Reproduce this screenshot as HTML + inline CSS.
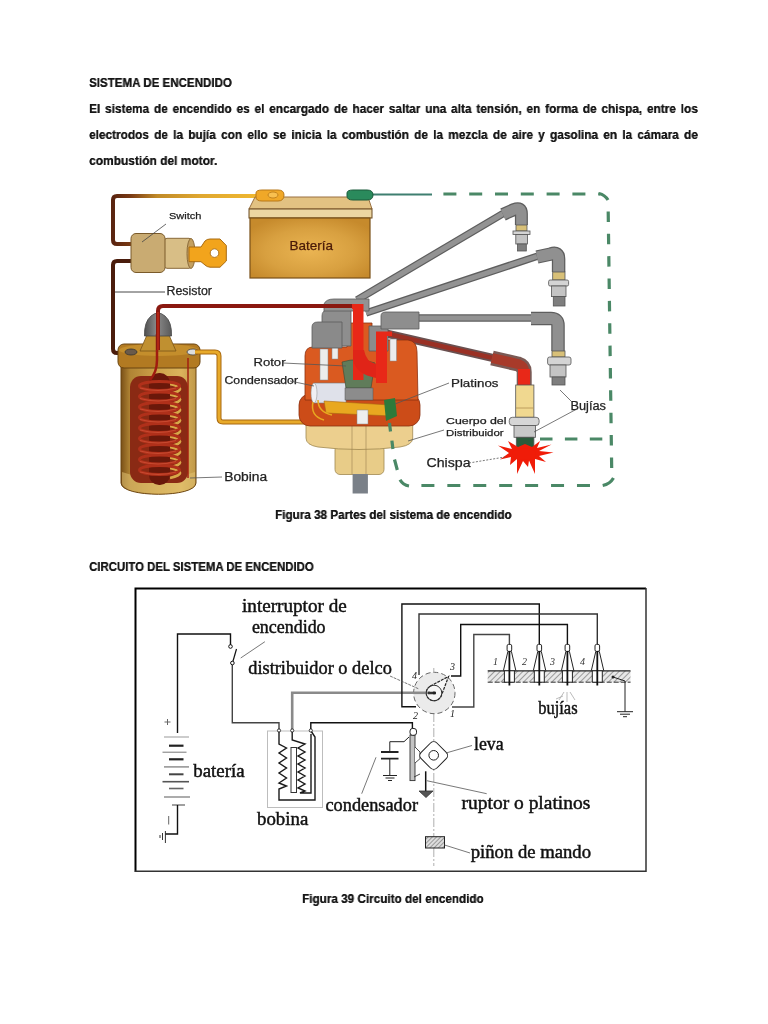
<!DOCTYPE html>
<html><head><meta charset="utf-8">
<style>
html,body{margin:0;padding:0;background:#fff;}
body{width:768px;height:1024px;position:relative;overflow:hidden;font-family:"Liberation Sans",sans-serif;color:#1a1a1a;}
.t{position:absolute;white-space:nowrap;font-weight:bold;line-height:20px;transform-origin:0 0;will-change:transform;text-shadow:0.15px 0 0 #1a1a1a;color:#161616;}
.j{text-align:justify;text-align-last:justify;}
svg{position:absolute;overflow:visible;will-change:transform;}
</style></head><body>

<div class="t" id="h1" style="left:89px;top:73px;font-size:12.4px;transform:scaleX(0.933)">SISTEMA DE ENCENDIDO</div>
<div class="t j" id="p1" style="left:89px;top:99px;width:669px;font-size:13px;transform:scaleX(0.91)">El sistema de encendido es el encargado de hacer saltar una alta tensión, en forma de chispa, entre los</div>
<div class="t j" id="p2" style="left:89px;top:125px;width:669px;font-size:13px;transform:scaleX(0.91)">electrodos de la bujía con ello se inicia la combustión de la mezcla de aire y gasolina en la cámara de</div>
<div class="t" id="p3" style="left:89px;top:151px;font-size:13px;transform:scaleX(0.92)">combustión del motor.</div>

<div class="t" id="c1" style="left:275px;top:505px;font-size:12.3px;transform:scaleX(0.951)">Figura 38 Partes del sistema de encendido</div>
<div class="t" id="h2" style="left:89px;top:557px;font-size:12.4px;transform:scaleX(0.92)">CIRCUITO DEL SISTEMA DE ENCENDIDO</div>
<div class="t" id="c2" style="left:302px;top:889px;font-size:12.3px;transform:scaleX(0.953)">Figura 39 Circuito del encendido</div>

<!-- FIG1 -->
<svg id="fig1" style="left:0;top:0;filter:blur(0.35px)" width="768" height="1024" viewBox="0 0 768 1024">
 <defs>
  <linearGradient id="gw1" x1="0" x2="1" y1="0" y2="0"><stop offset="0" stop-color="#5a2410"/><stop offset="0.12" stop-color="#7a3a14"/><stop offset="0.3" stop-color="#c08a28"/><stop offset="0.6" stop-color="#e0a830"/><stop offset="1" stop-color="#f0b830"/></linearGradient>
  <radialGradient id="gbat" cx="0.5" cy="0.55" r="0.62"><stop offset="0" stop-color="#eab452"/><stop offset="0.6" stop-color="#d8a040"/><stop offset="1" stop-color="#c68a2c"/></radialGradient>
  <linearGradient id="gcoil" x1="0" x2="1"><stop offset="0" stop-color="#7a5018"/><stop offset="0.12" stop-color="#b08434"/><stop offset="0.45" stop-color="#cca048"/><stop offset="0.8" stop-color="#dcb45c"/><stop offset="1" stop-color="#c09848"/></linearGradient>
  <linearGradient id="gcap" x1="0" x2="1"><stop offset="0" stop-color="#c84818"/><stop offset="0.5" stop-color="#e06028"/><stop offset="1" stop-color="#c84818"/></linearGradient>
  <linearGradient id="gbody" x1="0" x2="1"><stop offset="0" stop-color="#dcc080"/><stop offset="0.5" stop-color="#f2dca0"/><stop offset="1" stop-color="#d8bc7c"/></linearGradient>
 <linearGradient id="gcone" x1="0" x2="1"><stop offset="0" stop-color="#505050"/><stop offset="0.45" stop-color="#8a8a8a"/><stop offset="1" stop-color="#5a5a5a"/></linearGradient>
 </defs>
 <!-- wires left -->
 <path d="M131,244 H117 Q113,244 113,240 V200 Q113,196 117,196 H260" fill="none" stroke="url(#gw1)" stroke-width="4"/>
 <path d="M131,261 H117 Q113,261 113,265 V349 Q113,353 117,353 H127" fill="none" stroke="#4a1c0c" stroke-width="4"/>
 <line x1="115" y1="292" x2="165" y2="292" stroke="#333" stroke-width="0.9"/>
 <!-- switch -->
 <rect x="164" y="238.3" width="28" height="30" rx="3" fill="#d8be86" stroke="#8a6a3a" stroke-width="1"/>
 <rect x="131" y="233.5" width="34" height="39" rx="5" fill="#c9ab72" stroke="#7a5a2a" stroke-width="1"/>
 <ellipse cx="191" cy="253.5" rx="4" ry="15" fill="#c4a060" stroke="#8a6a3a" stroke-width="1"/>
 <path d="M189,247 H201 L205,241 Q207,239 210,239 H220 L226.3,245.5 V261 L220,267.2 H210 Q207,267 205,265 L201,261.7 H189 Z" fill="#f2a41c" stroke="#a86a10" stroke-width="1"/>
 <circle cx="214.5" cy="253.1" r="4.3" fill="#fff" stroke="#a86a10" stroke-width="0.9"/>
 <line x1="142" y1="242" x2="166" y2="224" stroke="#444" stroke-width="0.8"/>
 <!-- battery -->
 <path d="M255,197 H368 L372,209 H249 Z" fill="#e2c282" stroke="#9a7040" stroke-width="1"/>
 <rect x="249" y="209" width="123" height="9" fill="#ecd6a2" stroke="#6a4a20" stroke-width="1"/>
 <rect x="250" y="218" width="120" height="60" fill="url(#gbat)" stroke="#7a5018" stroke-width="1.2"/>
 <path d="M256,193 Q256,190 262,190 H278 Q284,190 284,195 Q284,201 278,201 H262 Q256,201 256,197 Z" fill="#f0a828" stroke="#b87818" stroke-width="1"/>
 <ellipse cx="273" cy="195" rx="5" ry="3" fill="#f8c050" stroke="#b87818" stroke-width="0.8"/>
 <line x1="366" y1="194.5" x2="432" y2="194.5" stroke="#3f7f70" stroke-width="2.2"/>
 <path d="M347,193 Q347,190 353,190 H367 Q373,190 373,195 Q373,200 367,200 H353 Q347,200 347,196 Z" fill="#2a8a5c" stroke="#1a5a3a" stroke-width="1"/>
 <!-- green dashed -->
 <g fill="none" stroke="#4a8866" stroke-width="3.2">
  <path d="M443.4,194 H600" stroke-dasharray="13 12.8"/>
  <path d="M599,193.5 Q605,195 608,200"/>
  <path d="M608.2,211.4 L611.7,470" stroke-dasharray="10.5 11.87"/>
  <path d="M602.7,485.5 Q610,484 613.5,478"/>
  <path d="M421.4,485.5 H592" stroke-dasharray="13 12.93"/>
  <path d="M400,479.7 Q403,485 409,486"/>
  <path d="M538.5,439 H604" stroke-dasharray="12.5 12.4" stroke-dashoffset="-1.5"/>
 </g>
 
 <!-- coil -->
 <path d="M121,360 V483 C121,498 196,498 196,483 V360 Z" fill="url(#gcoil)" stroke="#6a4410" stroke-width="1"/>
 <path d="M122,472 V483 C122,497 195,497 195,483 V472 C170,480 146,480 122,472 Z" fill="#e2c272" opacity="0.55"/>
 <rect x="118" y="344" width="82" height="24" rx="6" fill="#b27a22" stroke="#6a4410" stroke-width="1"/>
 <ellipse cx="159" cy="350" rx="40" ry="6" fill="#c48e2c"/>
 <path d="M140,351 L147,335 H169 L176,351 Z" fill="#c09030" stroke="#7a5418" stroke-width="0.8"/>
 <path d="M144.5,336 Q144,322 151,316 Q158,310 165,316 Q172,322 171.5,336 Z" fill="url(#gcone)" stroke="#444" stroke-width="0.8"/>
 <ellipse cx="131" cy="352" rx="6" ry="3" fill="#6a5a4a" stroke="#333" stroke-width="0.8"/>
 <ellipse cx="193" cy="352" rx="6" ry="3" fill="#ddd" stroke="#444" stroke-width="0.8"/>
 <rect x="130" y="376" width="58" height="107" rx="11" fill="#8a2a14"/>
 <g fill="none" stroke="#d8a848" stroke-width="2.8">
  <path d="M170,384 Q190,389 170,394 M170,394.5 Q190,399.5 170,404.5 M170,405 Q190,410 170,415 M170,415.5 Q190,420.5 170,425.5 M170,426 Q190,431 170,436 M170,436.5 Q190,441.5 170,446.5 M170,447 Q190,452 170,457 M170,457.5 Q190,462.5 170,467.5 M170,468 Q190,473 170,478"/>
 </g>

 <rect x="149" y="373" width="21" height="112" rx="10" fill="#6a180a"/>
 <g fill="none" stroke="#b0301a" stroke-width="3">
  <ellipse cx="159.5" cy="386" rx="20" ry="4.6"/><ellipse cx="159.5" cy="396.5" rx="20" ry="4.6"/><ellipse cx="159.5" cy="407" rx="20" ry="4.6"/><ellipse cx="159.5" cy="417.5" rx="20" ry="4.6"/><ellipse cx="159.5" cy="428" rx="20" ry="4.6"/><ellipse cx="159.5" cy="438.5" rx="20" ry="4.6"/><ellipse cx="159.5" cy="449" rx="20" ry="4.6"/><ellipse cx="159.5" cy="459.5" rx="20" ry="4.6"/><ellipse cx="159.5" cy="470" rx="20" ry="4.6"/>
 </g>
 <g fill="none" stroke="#c84a30" stroke-width="1">
  <path d="M140,388 Q158,393 176,388 M140,398.5 Q158,403.5 176,398.5 M140,409 Q158,414 176,409 M140,419.5 Q158,424.5 176,419.5 M140,430 Q158,435 176,430 M140,440.5 Q158,445.5 176,440.5 M140,451 Q158,456 176,451 M140,461.5 Q158,466.5 176,461.5 M140,472 Q158,477 176,472"/>
 </g>
 <path d="M157,334 V360 Q157,372 150,380" fill="none" stroke="#a01c10" stroke-width="2.5"/>
 <line x1="188" y1="358" x2="188" y2="478" stroke="#a02010" stroke-width="1.5"/>
 <line x1="190" y1="478" x2="222" y2="477" stroke="#555" stroke-width="0.8"/>
 <!-- HT wire coil to distributor -->
 <path d="M158,350 V311 Q158,306 163,306 H354" fill="none" stroke="#8a1810" stroke-width="4"/>
 <path d="M158,350 V312" fill="none" stroke="#b02414" stroke-width="2"/>
 <!-- yellow wire -->
 <path d="M195,352 H215 Q219,352 219,356 V418 Q219,422 223,422 H314" fill="none" stroke="#a86810" stroke-width="5"/>
 <path d="M195,352 H215 Q219,352 219,356 V418 Q219,422 223,422 H314" fill="none" stroke="#e8aa2a" stroke-width="3"/>
 <!-- gray cables -->
 <g fill="none" stroke-linecap="butt" stroke-linejoin="round">
  <path d="M357,300 L504,213" stroke="#5e5e5e" stroke-width="7.5"/>
  <path d="M357,300 L504,213" stroke="#939393" stroke-width="5"/>
  <path d="M503,214.5 L514,209.5 Q521.4,206.5 521.4,214 V225" stroke="#5e5e5e" stroke-width="13"/>
  <path d="M503,214.5 L514,209.5 Q521.4,206.5 521.4,214 V225" stroke="#909090" stroke-width="10.5"/>
  <path d="M366,313 L538,256" stroke="#5e5e5e" stroke-width="7.5"/>
  <path d="M366,313 L538,256" stroke="#939393" stroke-width="5"/>
  <path d="M537,257 L551,254 Q558.6,251.5 558.6,259 V272" stroke="#5e5e5e" stroke-width="13.5"/>
  <path d="M537,257 L551,254 Q558.6,251.5 558.6,259 V272" stroke="#909090" stroke-width="11"/>
  <path d="M382,318 H532" stroke="#5e5e5e" stroke-width="7.5"/>
  <path d="M382,318 H532" stroke="#939393" stroke-width="5"/>
  <path d="M531,318.5 H551 Q558,318.5 558,325.5 V351" stroke="#5e5e5e" stroke-width="13.5"/>
  <path d="M531,318.5 H551 Q558,318.5 558,325.5 V351" stroke="#909090" stroke-width="11"/>
  <path d="M384,333 L493,358" stroke="#6a5050" stroke-width="8"/>
  <path d="M384,333 L493,358" stroke="#9a3024" stroke-width="4.5"/>
  <path d="M492,358 L518,364 Q524.2,366 524.2,372 V386" stroke="#7a5a55" stroke-width="15"/>
  <path d="M492,358 L518,364 Q524.2,366 524.2,372 V386" stroke="#a83a2a" stroke-width="10"/>
 </g>
 <rect x="518" y="369" width="12" height="17" fill="#e82818"/>
 <!-- plugs -->
 <g stroke="#555" stroke-width="0.8">
  <rect x="516" y="225" width="11" height="6" fill="#d8c078"/>
  <rect x="513" y="231" width="17" height="3.5" fill="#d4d4d4"/>
  <rect x="515.8" y="234.5" width="11.7" height="9.5" fill="#c4c4c4"/>
  <rect x="517.5" y="244" width="8.8" height="7" fill="#7e7e7e"/>
  <rect x="552.7" y="272" width="12.3" height="8" fill="#d8c078"/>
  <rect x="548.6" y="280" width="20" height="6" rx="1.5" fill="#d4d4d4"/>
  <rect x="551.5" y="286" width="14.5" height="10.6" fill="#c4c4c4"/>
  <rect x="553.3" y="296.6" width="11.7" height="9.4" fill="#7e7e7e"/>
  <rect x="552" y="351" width="13" height="6" fill="#d8c078"/>
  <rect x="547.6" y="357" width="23.4" height="8" rx="2" fill="#d4d4d4"/>
  <rect x="550" y="365" width="16" height="12" fill="#c4c4c4"/>
  <rect x="552" y="377" width="13" height="8" fill="#7e7e7e"/>
  <rect x="515.7" y="385" width="18.2" height="32.3" fill="#f0d890"/>
  <line x1="516" y1="408" x2="533.5" y2="408" stroke="#b09050" stroke-width="0.8"/>
  <rect x="509.3" y="417.3" width="29.8" height="8.2" rx="3" fill="#d6d6d6"/>
  <rect x="514" y="425.5" width="21.6" height="11.8" fill="#c8c8c8"/>
  <rect x="516.3" y="437.3" width="17.6" height="11.1" fill="#2a5a3a"/>
 </g>
 <!-- spark -->
 <path d="M553.5,452.5 L539,456 L546,462 L535,459 L535,474 L529,460.5 L528,467 L523,461 L517,474 L517,459 L510,465 L511,457 L500,459.5 L509,453 L498,445.5 L512,449 L508,441 L518,447 L525,444 L532,447 L540,441 L537,448 L551.5,444.5 L539,451 Z" fill="#f01c08"/>
 <ellipse cx="524" cy="454" rx="12" ry="6" fill="#f01c08"/>
 <!-- distributor -->
 <rect x="335" y="445" width="49" height="29.5" rx="5" fill="#e8cc88" stroke="#a08850" stroke-width="0.8"/>
 <rect x="352.6" y="474" width="15.3" height="19.5" fill="#7a8088"/>
 <path d="M306,420 H412.7 V438 Q412.7,445 400,447 Q359,452 318,447 Q306,445 306,438 Z" fill="#eccf8e" stroke="#a08850" stroke-width="0.8"/>
 <line x1="352" y1="426" x2="352" y2="474" stroke="#9a8050" stroke-width="0.6"/>
 <line x1="366" y1="426" x2="366" y2="474" stroke="#9a8050" stroke-width="0.6"/>
 <rect x="299" y="394" width="121" height="32" rx="11" fill="#cc4c18" stroke="#8a3010" stroke-width="0.8"/>
 <path d="M305,400 V356 Q305,347 313,347 H347 V323 H372 V340 H408 Q417,341 417,352 L418,400 Z" fill="#da5a20" stroke="#8a3010" stroke-width="0.8"/>
 <!-- cutaway -->
 <path d="M314,383 H346 V403 H314 Q310,393 314,383 Z" fill="#dfe1ea" stroke="#777" stroke-width="0.6"/><ellipse cx="314" cy="393" rx="3" ry="10" fill="#f0f0f4" stroke="#888" stroke-width="0.5"/>
 <path d="M342,362 Q358,357 375,363 L371,388 H346 Z" fill="#607c5a" stroke="#3a4a34" stroke-width="0.6"/>
 <rect x="345" y="388" width="28" height="12" fill="#8c8c8c" stroke="#555" stroke-width="0.5"/>
 <path d="M324,401 L390,405 L392,416 L326,413 Z" fill="#e8a820" stroke="#a86810" stroke-width="0.6"/>
 <path d="M384,400 L395,398 L397,416 L386,421 Z" fill="#2e7a3a"/>
 <rect x="357" y="410" width="11" height="14" fill="#eee" stroke="#888" stroke-width="0.5"/>
 <path d="M313,402 Q310,416 324,420 M318,400 Q318,412 332,415" fill="none" stroke="#e8a820" stroke-width="1.5"/>
 <!-- terminals posts -->
 <rect x="320" y="349" width="8" height="31" fill="#ececec" stroke="#888" stroke-width="0.5"/>
 <rect x="332" y="347" width="6" height="12" fill="#ececec" stroke="#888" stroke-width="0.5"/>
 <rect x="390" y="339" width="6.5" height="22" fill="#ececec" stroke="#888" stroke-width="0.5"/>
 <!-- gray boots -->
 <path d="M322,316 Q322,310 328,310 H351 V346 H322 Z" fill="#8e8e8e" stroke="#5a5a5a" stroke-width="0.8"/>
 <path d="M312,327 Q312,322 318,322 H342 V348 H312 Z" fill="#8a8a8a" stroke="#5a5a5a" stroke-width="0.8"/>
 <path d="M369,326 H388 V351 H369 Z" fill="#8c8c8c" stroke="#5a5a5a" stroke-width="0.8"/>
 <path d="M381,316 Q381,312 386,312 H419 V329 H381 Z" fill="#8e8e8e" stroke="#5a5a5a" stroke-width="0.8"/>
 <path d="M324,304 Q326,299 334,299 H369 V311 H324 Z" fill="#939393" stroke="#5a5a5a" stroke-width="0.8"/>
 <!-- red HT verticals -->
 <path d="M320,306 H354" stroke="#8a1810" stroke-width="4"/>
 <path d="M352,304 H363.5 V380 H353 V309 H352 Z" fill="#e82818"/>
 <path d="M376,331.5 H392 V336 H387 V383 H376 Z" fill="#e82818"/>
 <path d="M353,350 H364 Q366,362 376,364 V378 Q356,374 353,360 Z" fill="#e02418"/>
 <path d="M389.5,423 L390.5,431.5 M391.9,440.6 L392.9,449 M394.5,459.5 L397.3,470" fill="none" stroke="#4a8866" stroke-width="3.2"/>
 <!-- labels -->
 <g font-family="Liberation Sans" fill="#222" stroke="#222" stroke-width="0.25">
  <text x="169" y="219" font-size="9.8" textLength="32.5" lengthAdjust="spacingAndGlyphs">Switch</text>
  <text x="166.5" y="295" font-size="12" textLength="45.5" lengthAdjust="spacingAndGlyphs">Resistor</text>
  <text x="289.5" y="250" font-size="13" textLength="43.5" lengthAdjust="spacingAndGlyphs" fill="#4a1a08" stroke="#4a1a08">Batería</text>
  <text x="253.5" y="366" font-size="11.5" textLength="32" lengthAdjust="spacingAndGlyphs">Rotor</text>
  <text x="224.5" y="383.5" font-size="10" textLength="73.5" lengthAdjust="spacingAndGlyphs">Condensador</text>
  <text x="224.2" y="480.5" font-size="12" textLength="43" lengthAdjust="spacingAndGlyphs">Bobina</text>
  <text x="451" y="387" font-size="11.5" textLength="47.5" lengthAdjust="spacingAndGlyphs">Platinos</text>
  <text x="570.5" y="409.5" font-size="12" textLength="35.5" lengthAdjust="spacingAndGlyphs">Bujías</text>
  <text x="446" y="423.5" font-size="9" textLength="60.5" lengthAdjust="spacingAndGlyphs">Cuerpo del</text>
  <text x="446" y="435.5" font-size="9.3" textLength="57.5" lengthAdjust="spacingAndGlyphs">Distribuidor</text>
  <text x="426.5" y="467" font-size="12.3" textLength="44" lengthAdjust="spacingAndGlyphs">Chispa</text>
 </g>
 <g stroke="#555" stroke-width="0.8" fill="none">
  <line x1="283" y1="363" x2="346" y2="366"/>
  <line x1="290" y1="381" x2="314" y2="386"/>
  <line x1="449" y1="383" x2="395" y2="404"/>
  <line x1="444" y1="430" x2="408" y2="441"/>
  <path d="M469,463 L505,457" stroke-dasharray="2 1.5"/>
  <path d="M572,402 L560,390 M575,410 L534,432"/>
 </g>
</svg>

<!-- FIG2 -->
<svg id="fig2" style="left:0;top:0;filter:blur(0.3px)" width="768" height="1024" viewBox="0 0 768 1024">
 <defs>
  <pattern id="hatch" width="4" height="4" patternUnits="userSpaceOnUse" patternTransform="rotate(45)"><rect width="4" height="4" fill="#e8e8e8"/><line x1="0" y1="0" x2="0" y2="4" stroke="#888" stroke-width="1.6"/></pattern>
  <pattern id="hatch2" width="3" height="3" patternUnits="userSpaceOnUse" patternTransform="rotate(45)"><rect width="3" height="3" fill="#ddd"/><line x1="0" y1="0" x2="0" y2="3" stroke="#555" stroke-width="1"/></pattern>
 </defs>
 <path d="M135.5 872 V588.5 H646" fill="none" stroke="#000" stroke-width="2"/>
 <path d="M646 588 V871.3 H135" fill="none" stroke="#333" stroke-width="1.5"/>
 <g fill="none" stroke="#111" stroke-width="1.4">
  <!-- battery + switch loop -->
  <path d="M177.5,733 V634 H230.5 V645"/>
  <path d="M232.3,664.5 V722.7 H279 V729" stroke="#444"/>
  <line x1="232.6" y1="662.5" x2="236.5" y2="649" stroke-width="1.2"/>
  <!-- bobina to distributor centre -->
  <path d="M292.2,729 V692.8 H430" stroke="#8a8a8a" stroke-width="2.6"/>
  <!-- bobina to breaker -->
  <path d="M310.8,729 V722.8 H412.4 V729"/>
  <!-- HT leads -->
  <path d="M539.3,644 V604 H401.9 V706.8 H416"/>
  <path d="M597.3,644 V614 H419 V675" stroke="#333"/>
  <path d="M567.4,644 V624.5 H460.7 V676 H451"/>
  <path d="M509.4,644 V634.5 H473.8 V707 H452" stroke="#444"/>
 </g>
 <!-- switch circles -->
 <circle cx="230.5" cy="646.5" r="1.8" fill="#fff" stroke="#111" stroke-width="1"/>
 <circle cx="232.4" cy="663" r="1.8" fill="#fff" stroke="#111" stroke-width="1"/>
 <!-- battery symbol -->
 <g stroke-linecap="butt">
  <line x1="164" y1="737" x2="189" y2="737" stroke="#999" stroke-width="1"/>
  <line x1="169" y1="745.7" x2="183.5" y2="745.7" stroke="#222" stroke-width="2.2"/>
  <line x1="162.5" y1="752.2" x2="186.5" y2="752.2" stroke="#777" stroke-width="1"/>
  <line x1="169" y1="759.3" x2="183.5" y2="759.3" stroke="#222" stroke-width="2.2"/>
  <line x1="164" y1="766.9" x2="189" y2="766.9" stroke="#888" stroke-width="1.4"/>
  <line x1="169" y1="774.3" x2="183.5" y2="774.3" stroke="#444" stroke-width="2"/>
  <line x1="162.5" y1="781.7" x2="189" y2="781.7" stroke="#555" stroke-width="1.6"/>
  <line x1="169" y1="788.5" x2="183.5" y2="788.5" stroke="#666" stroke-width="1.6"/>
  <line x1="164" y1="797" x2="190" y2="797" stroke="#888" stroke-width="1.4"/>
  <line x1="172" y1="805" x2="185" y2="805" stroke="#888" stroke-width="1.6"/>
 </g>
 <path d="M177.5,805 V834 H165" fill="none" stroke="#111" stroke-width="1.4"/>
 <path d="M165.4,831 V843 M162.5,833 V840 M160,835 V838" stroke="#333" stroke-width="1"/>
 <path d="M164.5,722 H170.5 M167.5,719 V725" stroke="#666" stroke-width="1"/>
 <line x1="168.7" y1="816" x2="168.7" y2="824.5" stroke="#666" stroke-width="1"/>
 <!-- bobina -->
 <rect x="267.5" y="731" width="55" height="76.5" fill="none" stroke="#bdbdbd" stroke-width="1"/>
 <g fill="none" stroke="#1a1a1a" stroke-width="1.4">
  <path d="M279,731 V744 L286.5,748 L279,753 L286.5,758 L279,763 L286.5,768 L279,773 L286.5,778 L279,783 L286.5,786 L279,789 V800 H315 V737 L311,731"/>
  <path d="M292.2,731 V740 L305,744 L298,748 L305,752 L298,756 L305,760 L298,764 L305,768 L298,772 L305,776 L298,780 L305,784 L298,788 L305,791 L300,793 H311 V734"/>
 </g>
 <rect x="291" y="747.5" width="5.5" height="45" fill="#fff" stroke="#333" stroke-width="1"/>
 <circle cx="279" cy="730.5" r="1.6" fill="#fff" stroke="#222" stroke-width="0.9"/>
 <circle cx="292.2" cy="730.5" r="1.6" fill="#fff" stroke="#222" stroke-width="0.9"/>
 <circle cx="310.8" cy="730.5" r="1.6" fill="#fff" stroke="#222" stroke-width="0.9"/>
 <!-- distributor -->
 <line x1="433.8" y1="668" x2="433.8" y2="866" stroke="#9a9a9a" stroke-width="0.8" stroke-dasharray="9 2 2 2"/>
 <circle cx="434.3" cy="693" r="20.7" fill="#ebebeb" stroke="#666" stroke-width="1" stroke-dasharray="5 3"/>
 <path d="M430.3,686.1 L448.6,676.4 L441.3,695.7 A7.8,7.8 0 1 1 430.3,686.1 Z" fill="#f6f6f6" stroke="#222" stroke-width="1.2" stroke-dasharray="3 1"/>
 <path d="M413,692.8 H430" stroke="#8a8a8a" stroke-width="2.6"/>
 <circle cx="434" cy="693" r="7.8" fill="none" stroke="#333" stroke-width="1"/>
 <path d="M428,693 H436" stroke="#333" stroke-width="2.5"/>
 <circle cx="434" cy="693" r="1.4" fill="#222"/>
 <g font-family="Liberation Serif" font-style="italic" font-size="10" fill="#222">
  <text x="412" y="679">4</text><text x="450" y="670">3</text><text x="413" y="719">2</text><text x="450" y="717">1</text>
 </g>
 <!-- plugs -->
 <rect x="487.7" y="670.8" width="142.8" height="11.5" fill="url(#hatch)"/>
 <line x1="487.7" y1="670.8" x2="630.5" y2="670.8" stroke="#222" stroke-width="1.2"/>
 <line x1="487.7" y1="682.2" x2="630.5" y2="682.2" stroke="#333" stroke-width="1" stroke-dasharray="5 2"/>
 <g fill="#fff" stroke="#222" stroke-width="1"><path d="M507.9,651.4 L503.4,670.8 H515.9 L511.4,651.4 Z"/><rect x="504.4" y="670.8" width="10" height="11.4"/><rect x="507.1" y="644.4" width="4.6" height="7" rx="1.5"/></g>
 <line x1="509.4" y1="651" x2="509.4" y2="685.5" stroke="#111" stroke-width="1.8"/>
 <g fill="#fff" stroke="#222" stroke-width="1"><path d="M537.8,651.4 L533.3,670.8 H545.8 L541.3,651.4 Z"/><rect x="534.3" y="670.8" width="10" height="11.4"/><rect x="537.0" y="644.4" width="4.6" height="7" rx="1.5"/></g>
 <line x1="539.3" y1="651" x2="539.3" y2="685.5" stroke="#111" stroke-width="1.8"/>
 <g fill="#fff" stroke="#222" stroke-width="1"><path d="M565.9,651.4 L561.4,670.8 H573.9 L569.4,651.4 Z"/><rect x="562.4" y="670.8" width="10" height="11.4"/><rect x="565.1" y="644.4" width="4.6" height="7" rx="1.5"/></g>
 <line x1="567.4" y1="651" x2="567.4" y2="685.5" stroke="#111" stroke-width="1.8"/>
 <g fill="#fff" stroke="#222" stroke-width="1"><path d="M595.8,651.4 L591.3,670.8 H603.8 L599.3,651.4 Z"/><rect x="592.3" y="670.8" width="10" height="11.4"/><rect x="595.0" y="644.4" width="4.6" height="7" rx="1.5"/></g>
 <line x1="597.3" y1="651" x2="597.3" y2="685.5" stroke="#111" stroke-width="1.8"/>
 <g stroke="#aaa" stroke-width="0.8"><path d="M564,692 L559,700 M567,692 V702 M570,692 L575,700 M563,696 L556,699"/></g>
 <g font-family="Liberation Serif" font-style="italic" font-size="10" fill="#333">
  <text x="493" y="665">1</text><text x="522" y="665">2</text><text x="550" y="665">3</text><text x="580" y="665">4</text>
 </g>
 <path d="M613,677 L625,681 V711.7" fill="none" stroke="#222" stroke-width="1"/>
 <circle cx="613" cy="677" r="1.5" fill="#222"/>
 <path d="M617,711.7 H633 M620,714.2 H630 M623,716.7 H627" stroke="#222" stroke-width="1"/>
 <!-- breaker -->
 <rect x="410" y="735" width="5" height="45.6" fill="#c4c4c4" stroke="#333" stroke-width="0.9"/>
 <rect x="410" y="728.5" width="6.5" height="6.8" rx="2.5" fill="#fff" stroke="#222" stroke-width="1"/>
 <path d="M415,747 L420,752 L420,758.7 L415,763" fill="#fff" stroke="#333" stroke-width="0.9"/>
 <path d="M414,777 L420,774" stroke="#333" stroke-width="0.9"/>
 <!-- capacitor -->
 <path d="M409,737 L404,741.7 H389.8 V752 M389.8,758.6 V775.5" fill="none" stroke="#222" stroke-width="1"/>
 <path d="M381,752 H398.5 M381,758.6 H398.5" stroke="#222" stroke-width="1.8"/>
 <path d="M383,775.5 H397 M385.5,778 H394.5 M388,780.5 H392" stroke="#222" stroke-width="1"/>
 <path d="M425.7,771.3 V791" fill="none" stroke="#111" stroke-width="1.5"/><path d="M419,791 H433 L426,797.5 Z" fill="#555" stroke="#333" stroke-width="0.8"/>
 <!-- cam -->
 <rect x="422.6" y="744.4" width="22.2" height="22.2" rx="4.5" transform="rotate(45 433.7 755.5)" fill="#fff" stroke="#222" stroke-width="1"/>
 <circle cx="433.7" cy="755.3" r="4.8" fill="#fff" stroke="#222" stroke-width="1"/>
 <!-- pinon -->
 <rect x="425.5" y="836.7" width="19" height="11.3" fill="url(#hatch2)" stroke="#222" stroke-width="1"/>
 <!-- leaders -->
 <g stroke="#555" stroke-width="0.8" fill="none">
  <line x1="240.7" y1="658" x2="264.9" y2="641.7"/>
  <path d="M390,676 L419,689" stroke-dasharray="3 1"/>
  <line x1="472" y1="745.5" x2="446" y2="753"/>
  <line x1="486.7" y1="793.7" x2="426.8" y2="780.7"/>
  <line x1="361.7" y1="793.7" x2="376" y2="757.3"/>
  <line x1="444.5" y1="845" x2="470" y2="853"/>
 </g>
 <g font-family="Liberation Serif" font-size="18" fill="#111" stroke="#111" stroke-width="0.45">
  <text x="242" y="612" textLength="104.7" lengthAdjust="spacingAndGlyphs">interruptor de</text>
  <text x="251.9" y="633.4" textLength="73.7" lengthAdjust="spacingAndGlyphs">encendido</text>
  <text x="248.3" y="674" textLength="143.5" lengthAdjust="spacingAndGlyphs">distribuidor o delco</text>
  <text x="193.3" y="776.8" textLength="51.3" lengthAdjust="spacingAndGlyphs">batería</text>
  <text x="257" y="824.5" textLength="51.3" lengthAdjust="spacingAndGlyphs">bobina</text>
  <text x="325.5" y="810.7" textLength="92.5" lengthAdjust="spacingAndGlyphs">condensador</text>
  <text x="474" y="749.5" textLength="29.6" lengthAdjust="spacingAndGlyphs">leva</text>
  <text x="461.6" y="808.8" textLength="128.7" lengthAdjust="spacingAndGlyphs">ruptor o platinos</text>
  <text x="470.7" y="857.5" textLength="120.3" lengthAdjust="spacingAndGlyphs">piñon de mando</text>
  <text x="538.2" y="714" textLength="39.4" lengthAdjust="spacingAndGlyphs">bujías</text>
 </g>
</svg>

</body></html>
